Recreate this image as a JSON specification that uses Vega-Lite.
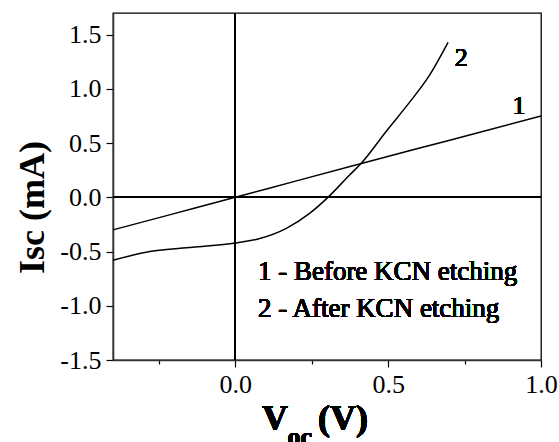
{
  "$schema": "https://vega.github.io/schema/vega-lite/v6.json",
  "width": 428,
  "height": 347,
  "autosize": {"type": "none"},
  "padding": {"left": 113, "top": 13, "right": 18, "bottom": 82},
  "config": {
    "font": "'Liberation Serif', 'Times New Roman', serif",
    "view": {"stroke": "black", "strokeWidth": 1.3},
    "locale": {"number": {"decimal": ".", "thousands": ",", "grouping": [3], "currency": ["", ""], "minus": "-"}},
    "text": {"font": "'Liberation Serif', 'Times New Roman', serif", "fontWeight": "normal", "color": "black"},
    "axis": {
      "domainColor": "#333333",
      "domainWidth": 1.6,
      "tickColor": "black",
      "tickWidth": 1.2,
      "labelColor": "black",
      "labelFont": "'Liberation Serif', 'Times New Roman', serif",
      "labelFontSize": 26,
      "labelOverlap": false,
      "labelBound": false,
      "labelFlush": false,
      "grid": false
    }
  },
  "data": {
    "values": [
      {"v": -0.4, "i": -0.30, "s": "1"},
      {"v": -0.2, "i": -0.15, "s": "1"},
      {"v": 0.0, "i": 0.0, "s": "1"},
      {"v": 0.2, "i": 0.152, "s": "1"},
      {"v": 0.4, "i": 0.303, "s": "1"},
      {"v": 0.6, "i": 0.452, "s": "1"},
      {"v": 0.8, "i": 0.60, "s": "1"},
      {"v": 1.0, "i": 0.75, "s": "1"},
      {"v": -0.4, "i": -0.58, "s": "2"},
      {"v": -0.28, "i": -0.50, "s": "2"},
      {"v": -0.14, "i": -0.46, "s": "2"},
      {"v": 0.0, "i": -0.42, "s": "2"},
      {"v": 0.08, "i": -0.38, "s": "2"},
      {"v": 0.167, "i": -0.286, "s": "2"},
      {"v": 0.243, "i": -0.148, "s": "2"},
      {"v": 0.303, "i": 0.0, "s": "2"},
      {"v": 0.374, "i": 0.206, "s": "2"},
      {"v": 0.412, "i": 0.314, "s": "2"},
      {"v": 0.494, "i": 0.61, "s": "2"},
      {"v": 0.571, "i": 0.88, "s": "2"},
      {"v": 0.636, "i": 1.13, "s": "2"},
      {"v": 0.696, "i": 1.43, "s": "2"}
    ]
  },
  "layer": [
    {
      "mark": {"type": "line", "color": "black", "strokeWidth": 1.5, "interpolate": "monotone"},
      "encoding": {
        "x": {
          "field": "v",
          "type": "quantitative",
          "scale": {"domain": [-0.4, 1.0], "nice": false, "zero": false},
          "axis": {
            "title": null,
            "values": [-0.25, 0, 0.25, 0.5, 0.75, 1.0],
            "tickSize": {"condition": {"test": "abs(datum.value*2 - round(datum.value*2)) > 0.01", "value": 4}, "value": 7},
            "labelExpr": "abs(datum.value*2 - round(datum.value*2)) > 0.01 ? '' : format(datum.value, '.1f')",
            "labelPadding": 4
          }
        },
        "y": {
          "field": "i",
          "type": "quantitative",
          "scale": {"domain": [-1.5, 1.7], "nice": false, "zero": false},
          "axis": {
            "title": "Isc (mA)",
            "titleFont": "'Liberation Serif', 'Times New Roman', serif",
            "titleFontSize": 36,
            "titleFontWeight": "bold",
            "titleColor": "black",
            "titleAngle": -90,
            "titleAlign": "center",
            "titleBaseline": "alphabetic",
            "titleX": -70,
            "titleY": 194,
            "values": [-1.5, -1.25, -1.0, -0.75, -0.5, -0.25, 0, 0.25, 0.5, 0.75, 1.0, 1.25, 1.5],
            "tickSize": {"condition": {"test": "abs(datum.value*2 - round(datum.value*2)) > 0.01", "value": 4}, "value": 7},
            "labelExpr": "abs(datum.value*2 - round(datum.value*2)) > 0.01 ? '' : format(datum.value, '.1f')",
            "labelPadding": 5
          }
        },
        "detail": {"field": "s"}
      }
    },
    {
      "mark": {"type": "rule", "color": "black", "strokeWidth": 1.2},
      "encoding": {"y": {"datum": 0, "type": "quantitative"}}
    },
    {
      "mark": {"type": "rule", "color": "black", "strokeWidth": 1.2},
      "encoding": {"x": {"datum": 0, "type": "quantitative"}}
    },
    {
      "mark": {"type": "text", "text": "2", "fontSize": 26, "align": "center", "baseline": "alphabetic"},
      "encoding": {"x": {"datum": 0.739, "type": "quantitative"}, "y": {"datum": 1.211, "type": "quantitative"}}
    },
    {
      "mark": {"type": "text", "text": "1", "fontSize": 26, "align": "center", "baseline": "alphabetic"},
      "encoding": {"x": {"datum": 0.928, "type": "quantitative"}, "y": {"datum": 0.766, "type": "quantitative"}}
    },
    {
      "mark": {"type": "text", "text": "1 - Before KCN etching", "fontSize": 27, "align": "left", "baseline": "alphabetic"},
      "encoding": {"x": {"datum": 0.074, "type": "quantitative"}, "y": {"datum": -0.763, "type": "quantitative"}}
    },
    {
      "mark": {"type": "text", "text": "2 - After KCN etching", "fontSize": 27, "align": "left", "baseline": "alphabetic"},
      "encoding": {"x": {"datum": 0.074, "type": "quantitative"}, "y": {"datum": -1.107, "type": "quantitative"}}
    },
    {
      "mark": {"type": "text", "text": "V", "fontSize": 36, "fontWeight": "bold", "align": "center", "baseline": "alphabetic"},
      "encoding": {"x": {"datum": 0.130, "type": "quantitative"}, "y": {"datum": -2.147, "type": "quantitative"}}
    },
    {
      "mark": {"type": "text", "text": "oc", "fontSize": 26, "fontWeight": "bold", "align": "left", "baseline": "alphabetic"},
      "encoding": {"x": {"datum": 0.171, "type": "quantitative"}, "y": {"datum": -2.285, "type": "quantitative"}}
    },
    {
      "mark": {"type": "text", "text": "(V)", "fontSize": 36, "fontWeight": "bold", "align": "left", "baseline": "alphabetic"},
      "encoding": {"x": {"datum": 0.2705, "type": "quantitative"}, "y": {"datum": -2.147, "type": "quantitative"}}
    }
  ]
}
